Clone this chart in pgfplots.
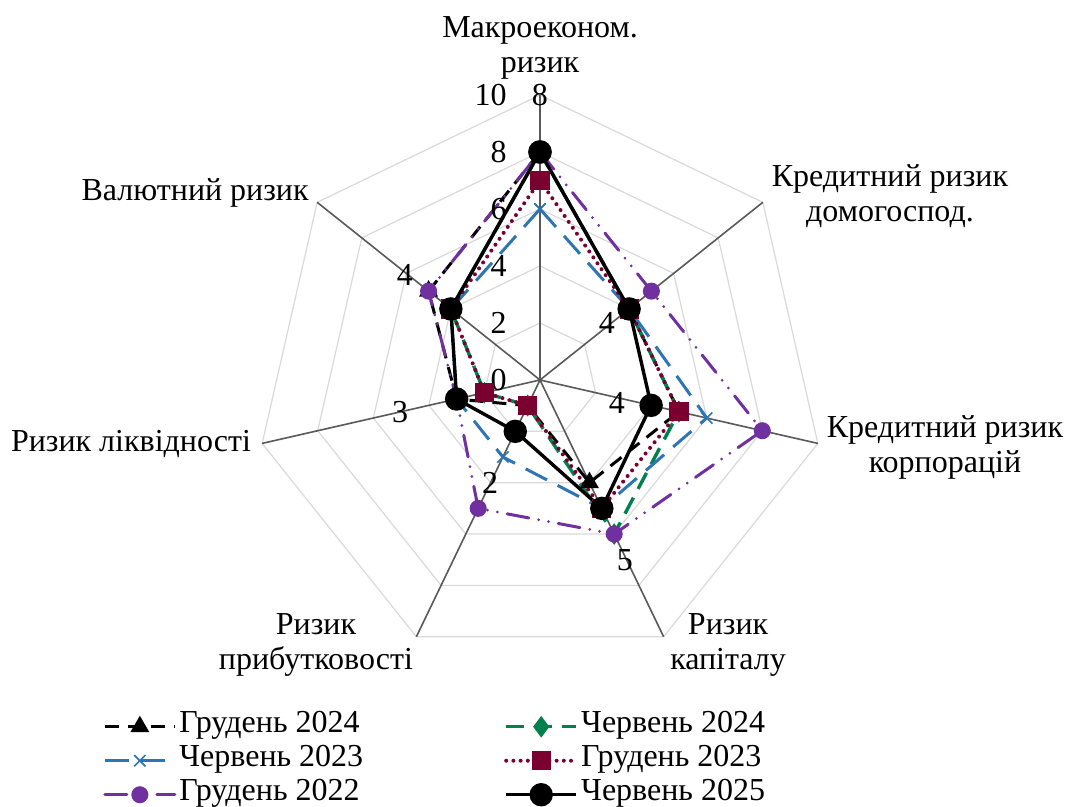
\documentclass[border=0pt]{standalone}
\usepackage{fontspec}
\setmainfont{Liberation Serif}
\usepackage{pgfplots}
\pgfplotsset{compat=1.18}
\definecolor{cgreen}{RGB}{0,128,76}
\definecolor{cmaroon}{RGB}{122,0,48}
\definecolor{cblue}{RGB}{46,117,182}
\definecolor{cpurple}{RGB}{112,48,160}
\definecolor{gridc}{RGB}{217,217,217}
\definecolor{spokec}{RGB}{89,89,89}
\newcommand{\lbl}{\fontsize{16}{17.5}\selectfont}
\begin{document}
\begin{tikzpicture}
\useasboundingbox (-270pt,-213.5pt) rectangle (263.5pt,190pt);
\begin{axis}[
  at={(0,0)}, anchor=origin,
  x=14.25pt, y=14.25pt,
  xmin=-18.947, xmax=18.491, ymin=-14.982, ymax=13.333,
  hide axis, clip=false,
  legend columns=2,
  legend cell align=left,
  legend image code/.code={\draw[mark repeat=2,mark phase=2] plot coordinates {(0pt,0pt) (17.5pt,0pt) (35pt,0pt)};},
  legend style={at={(0.0965,0.121)}, anchor=north west, draw=none, fill=none,
    inner sep=0pt, font=\lbl,
    nodes={inner xsep=1.5pt, inner ysep=0.5pt, text height=11pt, text depth=5pt},
    /tikz/every even column/.append style={column sep=69pt}},
]
% grid
\pgfplotsinvokeforeach{2,4,6,8,10}{
\addplot[gridc, line width=0.6pt, data cs=polar, forget plot] coordinates {(90,#1) (38.571,#1) (-12.857,#1) (-64.286,#1) (-115.714,#1) (-167.143,#1) (141.429,#1) (90,#1)};
}
\addplot[spokec, line width=0.8pt, data cs=polar, forget plot] coordinates {(90,10) (0,0) (38.571,10) (0,0) (-12.857,10) (0,0) (-64.286,10) (0,0) (-115.714,10) (0,0) (-167.143,10) (0,0) (141.429,10)};

% series
\addplot[black, line width=1.5pt, dash pattern=on 7pt off 4.5pt, mark=triangle*, mark size=4pt, mark options={solid}, data cs=polar]
 coordinates {(90,8) (38.571,4) (-12.857,5) (-64.286,4) (-115.714,1) (-167.143,3) (141.429,5) (90,8)};
\addlegendentry{Грудень 2024}
\addplot[cgreen, line width=1.7pt, dash pattern=on 9pt off 5pt, mark=diamond*, mark size=4pt, mark options={solid}, data cs=polar]
 coordinates {(90,8) (38.571,4) (-12.857,5) (-64.286,6) (-115.714,1) (-167.143,2) (141.429,4) (90,8)};
\addlegendentry{Червень 2024}
\addplot[cblue, line width=1.5pt, dash pattern=on 12pt off 6pt, mark=x, mark size=4pt, mark options={solid, line width=0.8pt}, data cs=polar]
 coordinates {(90,6) (38.571,4) (-12.857,6) (-64.286,5) (-115.714,3) (-167.143,3) (141.429,4) (90,6)};
\addlegendentry{Червень 2023}
\addplot[cmaroon, line width=2pt, line cap=round, dash pattern=on 0pt off 3.6pt, mark=square*, mark size=3.8pt, mark options={solid}, data cs=polar]
 coordinates {(90,7) (38.571,4) (-12.857,5) (-64.286,5) (-115.714,1) (-167.143,2) (141.429,4) (90,7)};
\addlegendentry{Грудень 2023}
\addplot[cpurple, line width=1.5pt, line cap=round, dash pattern=on 11pt off 5pt on 0pt off 5pt on 0pt off 5pt, mark=*, mark size=3.5pt, mark options={solid}, data cs=polar]
 coordinates {(90,8) (38.571,5) (-12.857,8) (-64.286,6) (-115.714,5) (-167.143,3) (141.429,5) (90,8)};
\addlegendentry{Грудень 2022}
\addplot[black, line width=1.7pt, mark=*, mark size=5pt, mark options={solid}, data cs=polar]
 coordinates {(90,8) (38.571,4) (-12.857,4) (-64.286,5) (-115.714,2) (-167.143,3) (141.429,4) (90,8)};
\addlegendentry{Червень 2025}

% radial scale labels
\pgfplotsinvokeforeach{0,2,4,6,8,10}{
\node[anchor=east, font=\lbl, inner sep=0pt] at (axis cs:-1.16,#1) {#1};
}
% data labels
\node[font=\lbl] at (axis cs:0,10) {8};
\node[font=\lbl] at (axis cs:2.35,2.0) {4};
\node[font=\lbl] at (axis cs:2.70,-0.81) {4};
\node[font=\lbl] at (axis cs:2.98,-6.32) {5};
\node[font=\lbl] at (axis cs:-1.75,-3.6) {2};
\node[font=\lbl] at (axis cs:-4.91,-1.12) {3};
\node[font=\lbl] at (axis cs:-4.74,3.68) {4};
% category labels
\node[font=\lbl, align=center] at (axis cs:0,11.65) {Макроеконом.\\ризик};
\node[font=\lbl, align=center] at (axis cs:12.28,6.46) {Кредитний ризик\\домогоспод.};
\node[font=\lbl, align=center] at (axis cs:14.21,-2.35) {Кредитний ризик\\корпорацій};
\node[font=\lbl, align=center] at (axis cs:6.60,-9.30) {Ризик\\капіталу};
\node[font=\lbl, align=center] at (axis cs:-7.86,-9.30) {Ризик\\прибутковості};
\node[font=\lbl, align=center] at (axis cs:-14.35,-2.25) {Ризик ліквідності};
\node[font=\lbl, align=center] at (axis cs:-12.1,6.56) {Валютний ризик};
\end{axis}
\end{tikzpicture}
\end{document}
